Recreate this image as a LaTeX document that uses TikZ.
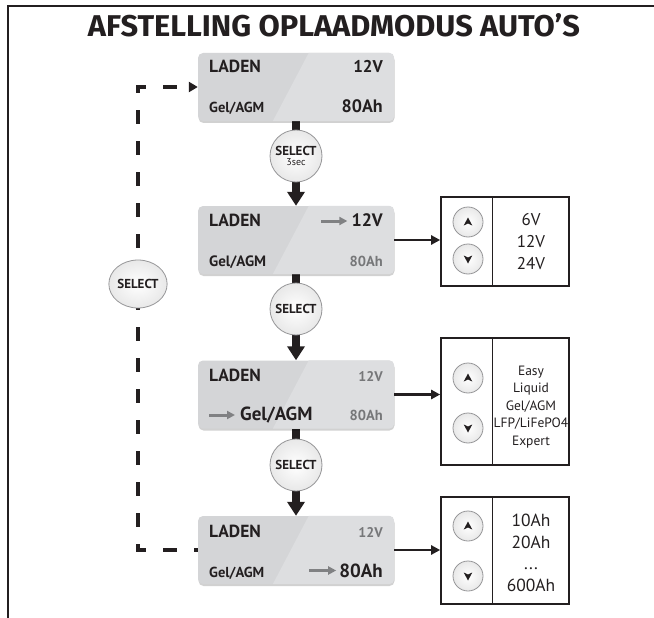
\documentclass[tikz,border=0pt]{standalone}
\usepackage{fontspec}
\usepackage{graphicx}
\setmainfont{PT Sans}
\newfontfamily\titlefont{Fira Sans}
\usetikzlibrary{arrows.meta,shapes.geometric,shadows,calc}
\pgfdeclarelayer{bg}\pgfsetlayers{bg,main}
\definecolor{ink}{RGB}{35,31,32}
\definecolor{lcdL}{RGB}{212,213,215}
\definecolor{lcdR}{RGB}{221,222,224}
\definecolor{gtext}{RGB}{118,119,121}
\definecolor{garrowc}{RGB}{128,129,131}
\definecolor{btnedge}{RGB}{150,150,152}
\newcommand\myfs[1]{\fontsize{#1}{#1}\selectfont}
\tikzset{
  lcd/.style={fill=lcdL, rounded corners=5pt, minimum width=196pt, minimum height=68pt,
    inner sep=0pt, drop shadow={opacity=0.18, fill=black, shadow xshift=0.5pt, shadow yshift=-2pt}},
  lt/.style={inner sep=0pt, text=ink, font=\bfseries\myfs{#1}},
  gt/.style={inner sep=0pt, text=gtext, font=\bfseries\myfs{#1}},
  selbtn/.style={draw=btnedge, line width=0.8pt, inner sep=0pt, shading=radial,
    inner color=white, outer color=black!9, text=ink, align=center,
    font=\bfseries\myfs{13}},
  updn/.style={circle, minimum size=30pt, inner sep=0pt, draw=btnedge, line width=0.8pt,
    shading=radial, inner color=white, outer color=black!9},
  rbox/.style={draw=ink, line width=1.6pt, minimum width=128pt, inner sep=0pt},
  rtxt/.style={inner sep=0pt, text=ink, align=center},
  conbar/.style={draw=ink, line width=8pt},
  conarrow/.style={draw=ink, line width=8pt, -{Triangle[width=17pt,length=14pt]}},
  rarrow/.style={draw=ink, line width=2.5pt, -{Triangle[width=9pt,length=9pt]}},
  dashline/.style={draw=ink, line width=4pt, dash pattern=on 14pt off 17pt, dash phase=10pt, -{Triangle[width=10pt,length=9pt]}},
  garrow/.style={draw=garrowc, line width=3pt, -{Triangle[width=8pt,length=8pt]}},
}
\begin{document}
\begin{tikzpicture}[x=1pt,y=-1pt]
\useasboundingbox (0,0) rectangle (654,618);
\begin{pgfonlayer}{bg}
\fill[white] (0,0) rectangle (654,618);
\end{pgfonlayer}
% frame
\draw[ink, line width=2.5pt] (8,618) -- (8,6) -- (654,6);
% title
\node[anchor=base, inner sep=0pt, text=ink] (title) at (334,37)
  {\resizebox{492pt}{23pt}{\titlefont\bfseries AFSTELLING OPLAADMODUS AUTO’S}};

% LCD boxes
\node[lcd] (b1) at (296,87) {};
\node[lcd] (b2) at (296,240) {};
\node[lcd] (b3) at (296,394.5) {};
\node[lcd] (b4) at (296,550) {};
\foreach \b in {b1,b2,b3,b4}{
  \begin{scope}
    \clip[rounded corners=5pt] (\b.north west) rectangle (\b.south east);
    \fill[lcdR] ([xshift=111pt]\b.north west) -- (\b.north east) -- (\b.south east) -- ([xshift=75pt]\b.south west) -- cycle;
  \end{scope}
}
% box 1
\node[lt=17.5, anchor=base west] (b1l) at (209,73) {LADEN};
\node[lt=17, anchor=base east] (b1v) at (383,73) {12V};
\node[lt=14.5, anchor=base west] (b1t) at (209,113) {Gel/AGM};
\node[lt=18, anchor=base east] (b1a) at (383,113) {80Ah};
% box 2
\node[lt=17.5, anchor=base west] (b2l) at (209,226) {LADEN};
\node[lt=18, anchor=base east] (b2v) at (383,226) {12V};
\node[lt=15, anchor=base west] (b2t) at (209,266) {Gel/AGM};
\node[gt=14.5, anchor=base east] (b2a) at (383,266) {80Ah};
\draw[garrow] ([xshift=-30pt,yshift=5pt]b2v.base west) -- ([xshift=-4pt,yshift=5pt]b2v.base west);
% box 3
\node[lt=17.5, anchor=base west] (b3l) at (209,381) {LADEN};
\node[gt=14, anchor=base east] (b3v) at (383,381) {12V};
\node[lt=19, anchor=base west] (b3t) at (240,420) {Gel/AGM};
\node[gt=14.5, anchor=base east] (b3a) at (383,420) {80Ah};
\draw[garrow] ([xshift=-31pt,yshift=5pt]b3t.base west) -- ([xshift=-5pt,yshift=5pt]b3t.base west);
% box 4
\node[lt=17.5, anchor=base west] (b4l) at (209,537) {LADEN};
\node[gt=14, anchor=base east] (b4v) at (383,537) {12V};
\node[lt=14.5, anchor=base west] (b4t) at (209,577) {Gel/AGM};
\node[lt=19, anchor=base east] (b4a) at (383,577) {80Ah};
\draw[garrow] ([xshift=-30pt,yshift=6.5pt]b4a.base west) -- ([xshift=-3pt,yshift=6.5pt]b4a.base west);

% select buttons
\node[selbtn, circle, minimum size=52pt] (s1) at (296,156) {SELECT\\[-3pt]{\mdseries\myfs{10}3sec}};
\node[selbtn, circle, minimum size=52pt] (s2) at (296,309) {SELECT};
\node[selbtn, circle, minimum size=52pt] (s3) at (296,465) {SELECT};
\node[selbtn, ellipse, minimum width=54pt, minimum height=48pt] (sL) at (138,284) {SELECT};

% right boxes
\node[rbox, minimum height=89pt] (rA) at (505,241.5) {};
\node[rbox, minimum height=127pt] (rB) at (505,401.5) {};
\node[rbox, minimum height=107pt] (rC) at (505,550.5) {};
\foreach \r in {rA,rB,rC}{
  \draw[ink, line width=1.2pt] ([xshift=52pt]\r.north west) -- ([xshift=52pt]\r.south west);
}
\node[rtxt, font=\fontsize{17}{22}\selectfont] (tA) at (531,242) {6V\\12V\\24V};
\node[rtxt, font=\fontsize{13.5}{17.5}\selectfont] (tB) at (531,407) {Easy\\Liquid\\Gel/AGM\\LFP/LiFePO4\\Expert};
\node[rtxt, font=\fontsize{17.5}{21.5}\selectfont] (tC) at (531,553) {10Ah\\20Ah\\...\\600Ah};

\node[updn] (uA) at (468,222) {};
\node[updn] (dA) at (468,259) {};
\node[updn] (uB) at (468,378) {};
\node[updn] (dB) at (468,428) {};
\node[updn] (uC) at (468,526) {};
\node[updn] (dC) at (468,576) {};
\foreach \n in {uA,uB,uC}{
  \fill[ink] (\n.center) ++(0,-4.5) -- ++(4.3,8) -- ++(-4.3,-2) -- ++(-4.3,2) -- cycle;
}
\foreach \n in {dA,dB,dC}{
  \fill[ink] (\n.center) ++(0,4.5) -- ++(4.3,-8) -- ++(-4.3,2) -- ++(-4.3,-2) -- cycle;
}

% connectors
\begin{pgfonlayer}{bg}
\draw[conbar] (b1.south) -- (s1.north);
\draw[conarrow] (s1.south) -- (b2.north);
\draw[conbar] (b2.south) -- (s2.north);
\draw[conarrow] (s2.south) -- (b3.north);
\draw[conbar] (b3.south) -- (s3.north);
\draw[conarrow] (s3.south) -- (b4.north);
\draw[dashline] (b4.west) -| (sL.center) |- (b1.west);
\end{pgfonlayer}
\draw[rarrow] (b2.east) -- (b2.east -| rA.west);
\draw[rarrow] (b3.east) -- (b3.east -| rB.west);
\draw[rarrow] (b4.east) -- (b4.east -| rC.west);
\end{tikzpicture}
\end{document}
